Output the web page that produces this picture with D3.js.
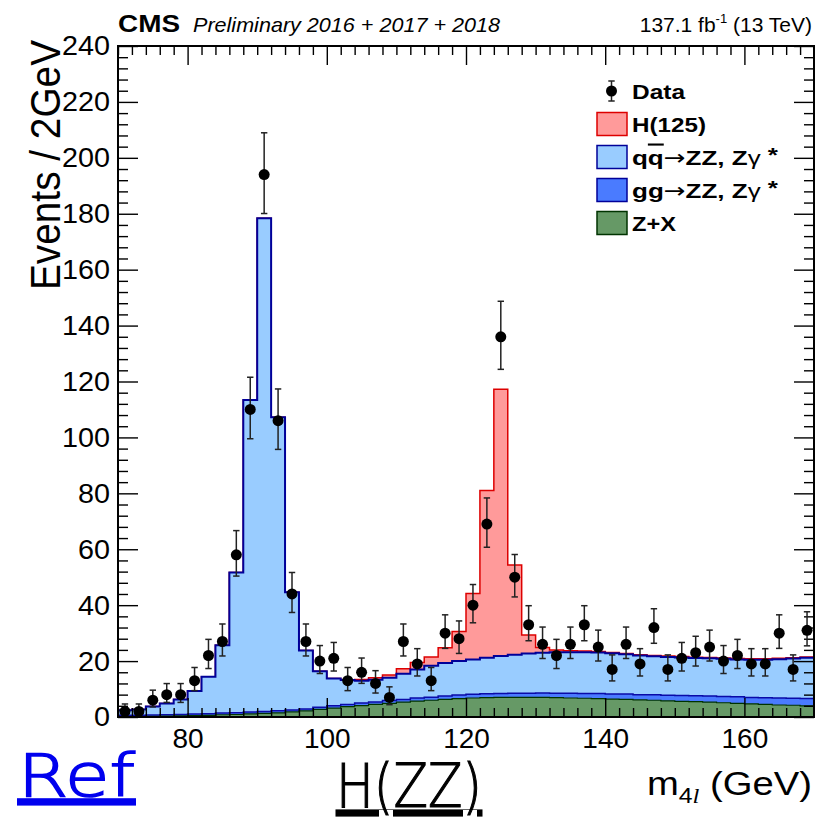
<!DOCTYPE html>
<html><head><meta charset="utf-8">
<script src="https://cdn.jsdelivr.net/npm/d3@7"></script>
<style>
body{margin:0;background:#fff}
svg{display:block}
text{font-family:"Liberation Sans",Arial,Helvetica,sans-serif;fill:#000}
</style>
</head><body><svg id="c" width="815" height="817"></svg>
<script>
// ---------------- data ----------------
const binLow = [70,72,74,76,78,80,82,84,86,88,90,92,94,96,98,100,102,104,106,108,
  110,112,114,116,118,120,122,124,126,128,130,132,134,136,138,140,142,144,146,148,
  150,152,154,156,158,160,162,164,166,168];
const binWidth = 2;
const dataCounts = [2,2,6,8,8,13,22,27,58,110,194,106,44,27,20,21,13,16,12,7,
  27,19,13,30,28,40,69,136,50,33,26,22,26,33,25,17,26,19,32,17,
  21,23,25,20,22,19,19,30,17,31];
const zxBkg = [0.1,0.15,0.2,0.3,0.4,0.5,0.6,0.8,0.9,1.1,1.3,1.5,1.8,2.2,2.7,3.2,3.7,4.1,4.5,4.9,
  5.3,5.7,6.0,6.3,6.6,6.8,6.9,7.0,7.0,7.0,7.0,6.9,6.8,6.7,6.6,6.4,6.3,6.1,6.0,5.8,
  5.6,5.5,5.3,5.1,4.9,4.7,4.5,4.3,4.2,4.0];
const ggZZ = [0.5,0.5,0.5,0.5,0.5,0.6,0.6,0.6,0.6,0.7,0.7,0.7,0.7,0.7,0.8,0.8,0.8,0.9,0.9,1.0,
  1.0,1.1,1.1,1.2,1.3,1.3,1.4,1.4,1.5,1.5,1.6,1.6,1.7,1.7,1.8,1.8,1.9,1.9,2.0,2.0,
  2.1,2.1,2.2,2.2,2.3,2.3,2.4,2.5,2.5,2.6];
const qqZZ = [1.8,2.0,3.1,4.0,5.4,8.2,13.2,24.3,50.2,111.6,176.4,105.0,42.1,20.9,12.9,9.8,8.7,8.0,7.9,8.1,
  9.2,10.2,11.2,11.8,12.1,12.5,12.9,13.4,13.8,14.2,14.4,14.7,14.7,14.8,14.7,14.6,14.2,14.0,13.7,13.7,
  13.6,13.5,13.5,13.5,13.4,13.5,13.6,13.9,14.2,14.6];
const h125 = [0,0,0,0,0,0,0,0,0,0,0,0,0,0,0,0,0,0.4,0.7,1.0,
  1.8,2.5,3.2,5.5,10.6,23.6,59.8,95.4,32.1,6.6,1.9,0.8,0.5,0.4,0.3,0.3,0.3,0.3,0.3,0.3,
  0.3,0.3,0.3,0.3,0.3,0.3,0.3,0.3,0.3,0.3];
const xTickLabels = [80,100,120,140,160];
const yTickLabels = [0,20,40,60,80,100,120,140,160,180,200,220,240];
const legendLabels = ["Data","H(125)","qq→ZZ, Zγ*","gg→ZZ, Zγ*","Z+X"];

// ---------------- layout ----------------
const svg = d3.select("#c");
const L = 118, R = 814, T = 46, B = 717;
const x = d3.scaleLinear().domain([70,170]).range([L,R]);
const y = d3.scaleLinear().domain([0,240]).range([B,T]);

svg.append("defs").append("clipPath").attr("id","clip")
  .append("rect").attr("x",L).attr("y",T).attr("width",R-L).attr("height",B-T);

// cumulative stacks
const cZX = zxBkg.slice();
const cGG = cZX.map((v,i)=>v+ggZZ[i]);
const cQQ = cGG.map((v,i)=>v+qqZZ[i]);
const cH  = cQQ.map((v,i)=>v+h125[i]);

function steps(vals){
  const p=[];
  binLow.forEach((b,i)=>{p.push([b,vals[i]]);p.push([b+binWidth,vals[i]]);});
  return p;
}
const area = d3.area().x(d=>x(d[0])).y0(y(0)).y1(d=>y(d[1]));
const line = d3.line().x(d=>x(d[0])).y(d=>y(d[1]));

const gH = svg.append("g").attr("clip-path","url(#clip)");
const layers = [
  {v:cH,  fill:"#ff9a9a", stroke:"#dd0000", w:1.5},
  {v:cQQ, fill:"#99ccff", stroke:"#000099", w:2},
  {v:cGG, fill:"#4a7bff", stroke:"#0a0aa8", w:1.5},
  {v:cZX, fill:"#669966", stroke:"#003300", w:1.2}
];
layers.forEach(l=>{
  const p = steps(l.v);
  gH.append("path").attr("d",area(p)).attr("fill",l.fill);
  gH.append("path").attr("d",line(p)).attr("fill","none").attr("stroke",l.stroke).attr("stroke-width",l.w);
});

// ---------------- axes ----------------
const tickFont = 28;
function styleAxis(g){ g.select(".domain").remove(); g.selectAll("line").attr("stroke","#000").attr("stroke-width",1.4); }
const xMinor = d3.range(70,170.01,2).filter(v=>v%20!==0);
const yMinor = d3.range(0,240.01,4).filter(v=>v%20!==0);

svg.append("g").attr("transform",`translate(0,${B})`)
  .call(d3.axisBottom(x).tickValues(xTickLabels).tickSize(-19).tickPadding(11).tickFormat(d3.format("d")))
  .call(styleAxis).call(g=>g.selectAll("text").attr("font-size",tickFont).attr("fill","#000").style("font-family","Liberation Sans"));
svg.append("g").attr("transform",`translate(0,${B})`)
  .call(d3.axisBottom(x).tickValues(xMinor).tickSize(-9).tickFormat(""))
  .call(styleAxis);
svg.append("g").attr("transform",`translate(0,${T})`)
  .call(d3.axisTop(x).tickValues(xTickLabels).tickSize(-19).tickFormat("")).call(styleAxis);
svg.append("g").attr("transform",`translate(0,${T})`)
  .call(d3.axisTop(x).tickValues(xMinor).tickSize(-9).tickFormat("")).call(styleAxis);
svg.append("g").attr("transform",`translate(${L},0)`)
  .call(d3.axisLeft(y).tickValues(yTickLabels).tickSize(-20).tickPadding(8).tickFormat(d3.format("d")))
  .call(styleAxis).call(g=>g.selectAll("text").attr("font-size",tickFont).attr("fill","#000").style("font-family","Liberation Sans")
     .attr("textLength",function(){return this.textContent.length*16;}).attr("lengthAdjust","spacingAndGlyphs"));
svg.append("g").attr("transform",`translate(${L},0)`)
  .call(d3.axisLeft(y).tickValues(yMinor).tickSize(-10).tickFormat("")).call(styleAxis);
svg.append("g").attr("transform",`translate(${R},0)`)
  .call(d3.axisRight(y).tickValues(yTickLabels).tickSize(-20).tickFormat("")).call(styleAxis);
svg.append("g").attr("transform",`translate(${R},0)`)
  .call(d3.axisRight(y).tickValues(yMinor).tickSize(-10).tickFormat("")).call(styleAxis);

svg.append("rect").attr("x",L).attr("y",T).attr("width",R-L).attr("height",B-T)
  .attr("fill","none").attr("stroke","#000").attr("stroke-width",2);

// ---------------- data points ----------------
const gD = svg.append("g").attr("clip-path","url(#clip)");
const cap = 3.2;
binLow.forEach((b,i)=>{
  const n = dataCounts[i];
  const cx = x(b+binWidth/2);
  const up = n + Math.sqrt(n+0.75) + 1;
  const lo = n - Math.sqrt(n-0.25);
  gD.append("line").attr("x1",cx).attr("x2",cx).attr("y1",y(up)).attr("y2",y(lo))
    .attr("stroke","#222").attr("stroke-width",1.5);
  [up,lo].forEach(v=>gD.append("line").attr("x1",cx-cap).attr("x2",cx+cap).attr("y1",y(v)).attr("y2",y(v))
    .attr("stroke","#222").attr("stroke-width",1.5));
  gD.append("circle").attr("cx",cx).attr("cy",y(n)).attr("r",5.5).attr("fill","#000");
});

// ---------------- legend ----------------
const lg = svg.append("g");
const rows = [91,124,157,190,223];
const legendWidths = [53,74,146,146,44];
const boxes = [null,{f:"#ff9a9a",s:"#dd0000"},{f:"#99ccff",s:"#000099"},{f:"#4a7bff",s:"#000099"},{f:"#669966",s:"#003300"}];
rows.forEach((ry,i)=>{
  if(i===0){
    lg.append("line").attr("x1",611.5).attr("x2",611.5).attr("y1",ry-10).attr("y2",ry+10).attr("stroke","#222").attr("stroke-width",1.5);
    [ry-10,ry+10].forEach(v=>lg.append("line").attr("x1",608.3).attr("x2",614.7).attr("y1",v).attr("y2",v).attr("stroke","#222").attr("stroke-width",1.5));
    lg.append("circle").attr("cx",611.5).attr("cy",ry).attr("r",5.5).attr("fill","#000");
  } else {
    lg.append("rect").attr("x",597).attr("y",ry-11.5).attr("width",30).attr("height",23)
      .attr("fill",boxes[i].f).attr("stroke",boxes[i].s).attr("stroke-width",1.5);
  }
  const t = lg.append("text").attr("x",632).attr("y",ry+7.5).attr("font-size",21).attr("font-weight","bold")
    .attr("textLength",legendWidths[i]).attr("lengthAdjust","spacingAndGlyphs");
  if(i===2 || i===3){
    if(i===2){
      t.append("tspan").text("q");
      t.append("tspan").style("text-decoration","overline").text("q");
    } else {
      t.append("tspan").text("gg");
    }
    t.append("tspan").attr("font-weight","normal").style("font-family","DejaVu Sans").text("→");
    t.append("tspan").text("ZZ, Z");
    t.append("tspan").attr("font-weight","normal").text("γ");
    t.append("tspan").attr("dy",-3).text(" *");
  } else {
    t.text(legendLabels[i]);
  }
});

// ---------------- titles ----------------
svg.append("text").attr("x",118).attr("y",32).attr("font-size",24).attr("font-weight","bold")
  .attr("textLength",62).attr("lengthAdjust","spacingAndGlyphs").text("CMS");
svg.append("text").attr("x",193).attr("y",32).attr("font-size",21).attr("font-style","italic")
  .attr("textLength",307).attr("lengthAdjust","spacingAndGlyphs").text("Preliminary 2016 + 2017 + 2018");
const lum = svg.append("text").attr("x",812).attr("y",32).attr("font-size",21).attr("text-anchor","end");
lum.append("tspan").text("137.1 fb");
lum.append("tspan").attr("font-size",13).attr("dy",-9).text("-1");
lum.append("tspan").attr("dy",9).text(" (13 TeV)");

svg.append("text").attr("transform","translate(60,40) rotate(-90)").attr("text-anchor","end")
  .attr("font-size",42).attr("textLength",250).attr("lengthAdjust","spacingAndGlyphs").text("Events / 2GeV");

const xt = svg.append("text").attr("x",647).attr("y",795).attr("font-size",34)
  .attr("textLength",165).attr("lengthAdjust","spacingAndGlyphs");
xt.append("tspan").text("m");
xt.append("tspan").attr("font-size",22).attr("dy",8).text("4");
xt.append("tspan").attr("font-size",22).attr("font-style","italic").style("font-family","Liberation Serif").text("l");
xt.append("tspan").attr("dy",-8).text(" (GeV)");

svg.append("text").attr("x",18).attr("y",796).attr("font-size",58)
  .style("font-family","DejaVu Sans").attr("font-weight",200)
  .attr("textLength",117).attr("lengthAdjust","spacingAndGlyphs")
  .style("fill","#0000ee").style("stroke","#0000ee").style("stroke-width",1.6)
  .style("text-decoration","underline").text("Ref");
svg.append("text").attr("x",336).attr("y",807).attr("font-size",60)
  .style("font-family","DejaVu Sans").attr("font-weight",200)
  .attr("textLength",146).attr("lengthAdjust","spacingAndGlyphs")
  .style("stroke","#000").style("stroke-width",1.2)
  .style("text-decoration","underline").text("H(ZZ)");
</script>
</body></html>
